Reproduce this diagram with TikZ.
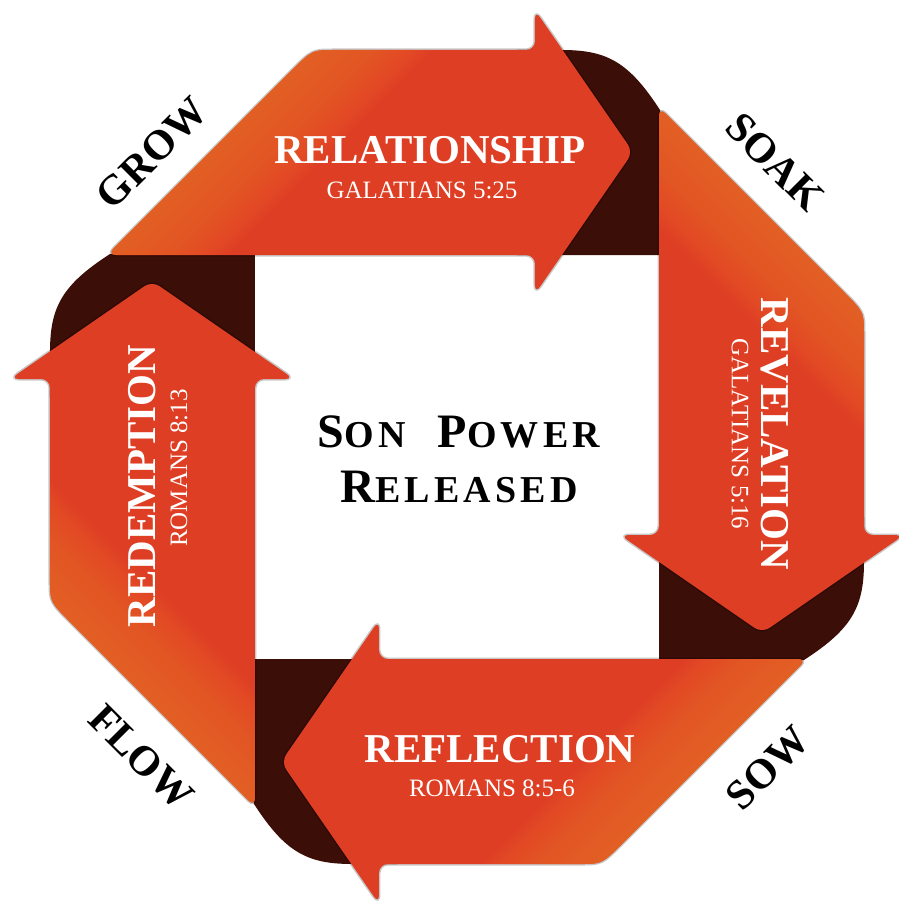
\documentclass[tikz,border=0pt]{standalone}
\usepackage{fontspec}
\setmainfont{Liberation Serif}
\definecolor{armred}{RGB}{222,62,36}
\definecolor{armlite}{RGB}{240,112,48}
\definecolor{folddark}{RGB}{60,14,8}
\newcommand{\fsc}[2]{#1{\fontsize{38}{55}\selectfont #2}}

\begin{document}
\begin{tikzpicture}[x=1pt, y=1pt,
  title/.style={text=white, font=\bfseries\fontsize{41}{41}\selectfont, inner sep=0pt},
  verse/.style={text=white, font=\fontsize{25}{25}\selectfont, inner sep=0pt},
  word/.style={font=\bfseries\fontsize{42}{42}\selectfont, inner sep=0pt}]
\useasboundingbox (-457,-446) rectangle (442,457);

\foreach \ang in {0,-90,-180,-270}
  \fill[folddark, rotate=\ang] (-202,60) -- (-407,60) -- (-407,105) .. controls (-407,150) and (-395,172) .. (-347,203) -- (-202,203) -- cycle;

\foreach \ang in {0,-90,-180,-270}{
  \begin{scope}[rotate=\ang]
    \path[save path=\armp, rounded corners=9] (-350,202) -- (-173,379) .. controls (-145,407) .. (-115,407) -- (78,407) -- (78,447) -- (176,305) -- (78,163) -- (78,202) -- cycle;
    \draw[use path=\armp, black, opacity=0.22, line width=3];
    \fill[use path=\armp, armred];
    \begin{scope}
      \clip[use path=\armp];
      \foreach \w in {6,12,...,120}
        \fill[armlite, opacity=0.07] (-700,-148-\w) -- (300,852-\w) -- (-700,852-\w) -- cycle;
    \end{scope}
  \end{scope}
}

\node[title] (rel) at (-27,307) {RELATIONSHIP};
\node[verse] (relref) at (-35,267) {GALATIANS 5:25};
\node[title, rotate=-90] (rev) at (318,23) {REVELATION};
\node[verse, rotate=-90] (revref) at (283,23) {GALATIANS 5:16};
\node[title] (refl) at (43,-292) {REFLECTION};
\node[verse] (reflref) at (35,-331) {ROMANS 8:5-6};
\node[title, rotate=90] (red) at (-315,-29) {REDEMPTION};
\node[verse, rotate=90] (redref) at (-278,-11) {ROMANS 8:13};
\node[word, rotate=45] (grow) at (-305,304) {GROW};
\node[word, rotate=-45] (soak) at (318,295) {SOAK};
\node[word, rotate=45] (sow) at (311,-311) {SOW};
\node[word, rotate=-45] (flow) at (-316,-300) {FLOW};
\node[align=center, inner sep=0pt, font=\bfseries\fontsize{48}{55}\selectfont\addfontfeatures{LetterSpace=11}] (core) at (2,-2) {\fsc{S}{ON}\hspace{32pt}\fsc{P}{OWER}\\\fsc{R}{ELEASED}};
\end{tikzpicture}
\end{document}
